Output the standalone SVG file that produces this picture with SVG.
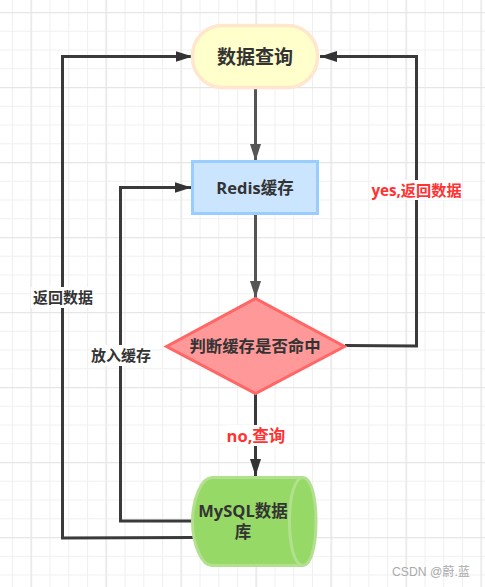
<svg xmlns="http://www.w3.org/2000/svg" width="485" height="587" viewBox="0 0 485 587">
<defs>
<pattern id="minor" width="18.75" height="18.75" patternUnits="userSpaceOnUse" x="12" y="12">
<path d="M0.5 0V18.75M0 0.5H18.75" fill="none" stroke="#f0f0f0" stroke-width="1.2"/>
</pattern>
<pattern id="major" width="75" height="75" patternUnits="userSpaceOnUse" x="30.5" y="12">
<path d="M0.5 0V75M0 0.5H75" fill="none" stroke="#e6e6e6" stroke-width="1.500"/>
</pattern>
<marker id="ah" markerUnits="userSpaceOnUse" markerWidth="18" markerHeight="18" refX="17" refY="9" orient="auto">
<path d="M0 3.500L17 9L0 14.500Z" fill="#333"/>
</marker>
<marker id="ag" markerUnits="userSpaceOnUse" markerWidth="18" markerHeight="18" refX="17" refY="9" orient="auto">
<path d="M0 3.500L17 9L0 14.500Z" fill="#555"/>
</marker>
</defs>
<style>
text{font-family:"Open Sans","Noto Sans CJK SC","Noto Sans",sans-serif;font-weight:700;text-anchor:middle;fill:#333}
.c{fill:none;stroke:#3a3a3a;stroke-width:3;marker-end:url(#ah)}
.g{fill:none;stroke:#555;stroke-width:3;marker-end:url(#ag)}
.l{fill:none;stroke:#3a3a3a;stroke-width:3}
.lb{fill:#fff}
.s{font-size:15px}
.r{font-size:16px;fill:#f33}
</style>
<rect width="485" height="587" fill="#fff"/>
<rect width="485" height="587" fill="url(#minor)"/>
<rect width="485" height="587" fill="url(#major)"/>
<g id="connectors">
<path class="g" d="M255.500 89V161"/>
<path class="g" d="M255.500 215V298"/>
<path class="l" d="M255.500 394V430"/>
<path class="c" d="M255.500 445V476"/>
<path class="c" d="M345 345.500L416.500 346V56.500H320"/>
<path class="c" d="M192 521H120.500V187.500H191.500"/>
<path class="c" d="M193 537.500L62.500 538V56.500H192.500"/>
<rect class="lb" x="31" y="287" width="62" height="21"/>
<text class="s" x="63" y="303">返回数据</text>
<rect class="lb" x="90" y="345" width="62" height="21"/>
<text class="s" x="121" y="361">放入缓存</text>
<rect class="lb" x="372" y="180" width="90" height="20"/>
<text class="r" x="416.500" y="195.500" style="font-size:15.200px">yes,返回数据</text>
<rect class="lb" x="226" y="425" width="60" height="21"/>
<text class="r" x="256" y="442" style="font-size:16.500px">no,查询</text>
</g>
<g id="query">
<rect x="192.500" y="25.500" width="125" height="62" rx="30" ry="30" fill="#ffffcc" stroke="#ffe6cc" stroke-width="3.500"/>
<text x="255" y="64" font-size="19">数据查询</text>
</g>
<g id="redis">
<rect x="192.500" y="161.500" width="125" height="52" fill="#cce5ff" stroke="#99ccff" stroke-width="3"/>
<text x="255" y="194" font-size="16.500">Redis缓存</text>
</g>
<g id="decision">
<path d="M166.500 346.500L255.500 298.500L344.500 346.500L255.500 393.500Z" fill="#ff9999" stroke="#ff6666" stroke-width="3"/>
<text x="255" y="352" font-size="16.400">判断缓存是否命中</text>
</g>
<g id="mysql">
<path d="M212 477.500H303C310 477.500 316 494 316 521.500C316 549 310 565.500 303 565.500H212C202 565.500 192.500 545 192.500 521.500C192.500 498 202 477.500 212 477.500Z" fill="#97d967" stroke="#b3e08f" stroke-width="3"/>
<path d="M303 477.500C295 477.500 289.500 496 289.500 521.500C289.500 547 295 565.500 303 565.500" fill="none" stroke="#b3e08f" stroke-width="3"/>
<text x="243" y="517" font-size="16.500">MySQL数据</text>
<text x="243" y="538" font-size="16.500">库</text>
</g>
<text x="431" y="576" font-size="12.200" style="font-weight:400;fill:#aaa;font-family:'Liberation Sans','Noto Sans CJK SC',sans-serif">CSDN @蔚.蓝</text>
</svg>
